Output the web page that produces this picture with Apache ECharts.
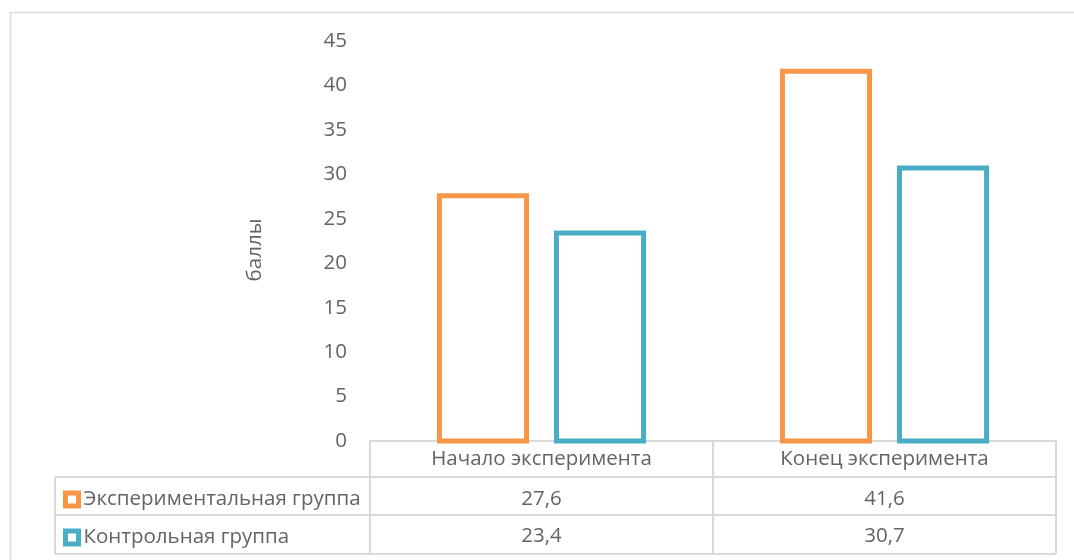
<!DOCTYPE html>
<html>
<head>
<meta charset="utf-8">
<script src="https://cdn.jsdelivr.net/npm/echarts@6/dist/echarts.min.js"></script>
<style>
  html, body { margin: 0; padding: 0; background: #fff; }
  #chart { width: 1074px; height: 560px; }
</style>
</head>
<body>
<div id="chart"></div>
<script>
// Data
const categories = ['Начало эксперимента', 'Конец эксперимента'];
const seriesNames = ['Экспериментальная группа', 'Контрольная группа'];
const experimental = [27.6, 41.6];
const control = [23.4, 30.7];
const yTicks = [0, 5, 10, 15, 20, 25, 30, 35, 40, 45];

const ORANGE = '#F79646';
const BLUE = '#4BACC6';
const TEXT = '#646464';
const RULE = '#d9d9d9';
const FONT = '"Open Sans", "Noto Sans", sans-serif';
const FS = 20.5;

const fmt = v => String(v).replace('.', ',');

// Layout of the plot and the data table beneath it
const G = { left: 370, right: 1056, top: 41, bottom: 441 };
const rowH = [441, 477, 515, 554];
const tableLeft = 55;

// Column geometry as fractions of a category band; outline drawn centred on the edge
const BAR_FRAC = 0.254;
const BAR_OFFSET = [-0.1706, 0.1706];
const BORDER = 5;

const chart = echarts.init(document.getElementById('chart'), null, { renderer: 'canvas' });

function valueAxis(values, offset) {
  return {
    type: 'category', data: categories, position: 'bottom', offset: offset,
    axisLine: { show: false }, axisTick: { show: false },
    axisLabel: {
      interval: 0, margin: 8, color: TEXT, fontFamily: FONT, fontSize: FS,
      formatter: (v, i) => fmt(values[i])
    }
  };
}

function outlinedColumn(name, values, color, idx) {
  return {
    name: name, type: 'custom',
    data: values.map((v, i) => [i, v]),
    encode: { x: 0, y: 1 },
    itemStyle: { color: '#fff', borderColor: color, borderWidth: BORDER },
    renderItem: function (params, api) {
      const top = api.coord([api.value(0), api.value(1)]);
      const base = api.coord([api.value(0), 0]);
      const band = api.size([1, 0])[0];
      const w = band * BAR_FRAC;
      const cx = top[0] + band * BAR_OFFSET[idx];
      return {
        type: 'rect',
        shape: { x: cx - w / 2, y: top[1], width: w, height: base[1] - top[1] },
        style: { fill: '#fff', stroke: color, lineWidth: BORDER }
      };
    }
  };
}

const lineStyle = { stroke: RULE, lineWidth: 2 };
const graphics = [
  // outer chart frame
  { type: 'rect', shape: { x: 10.5, y: 12.5, width: 1100, height: 600 },
    style: { fill: null, stroke: RULE, lineWidth: 1.5 }, silent: true },
  // table rules
  { type: 'line', shape: { x1: tableLeft, y1: rowH[1], x2: G.right, y2: rowH[1] }, style: lineStyle },
  { type: 'line', shape: { x1: tableLeft, y1: rowH[2], x2: G.right, y2: rowH[2] }, style: lineStyle },
  { type: 'line', shape: { x1: tableLeft, y1: rowH[3], x2: G.right, y2: rowH[3] }, style: lineStyle },
  { type: 'line', shape: { x1: tableLeft, y1: rowH[1], x2: tableLeft, y2: rowH[3] }, style: lineStyle }
];

chart.setOption({
  animation: false,
  textStyle: { fontFamily: FONT },
  grid: { left: G.left, right: 1074 - G.right, top: G.top, bottom: 560 - G.bottom, containLabel: false },
  legend: {
    orient: 'vertical', left: 58, top: 484,
    itemWidth: 13, itemHeight: 13, itemGap: 17,
    icon: 'rect',
    itemStyle: { color: '#fff', borderWidth: BORDER },
    textStyle: { color: TEXT, fontFamily: FONT, fontSize: FS, lineHeight: 20 },
    data: seriesNames
  },
  xAxis: [
    {
      type: 'category', data: categories, position: 'bottom',
      axisLine: { show: true, lineStyle: { color: RULE, width: 2 } },
      axisTick: { show: true, length: rowH[3] - rowH[0], lineStyle: { color: RULE, width: 2 } },
      axisLabel: { interval: 0, margin: 8, color: TEXT, fontFamily: FONT, fontSize: FS }
    },
    valueAxis(experimental, 40),
    valueAxis(control, 77)
  ],
  yAxis: {
    type: 'value', min: yTicks[0], max: yTicks[yTicks.length - 1], interval: 5,
    name: 'баллы', nameLocation: 'middle', nameGap: 104, nameRotate: 90,
    nameTextStyle: { color: TEXT, fontFamily: FONT, fontSize: FS, padding: [0, 0, 0, -18] },
    axisLine: { show: false }, axisTick: { show: false }, splitLine: { show: false },
    axisLabel: { color: TEXT, fontFamily: FONT, fontSize: FS, margin: 23 }
  },
  series: [
    outlinedColumn(seriesNames[0], experimental, ORANGE, 0),
    outlinedColumn(seriesNames[1], control, BLUE, 1)
  ],
  graphic: graphics
});
</script>
</body>
</html>
